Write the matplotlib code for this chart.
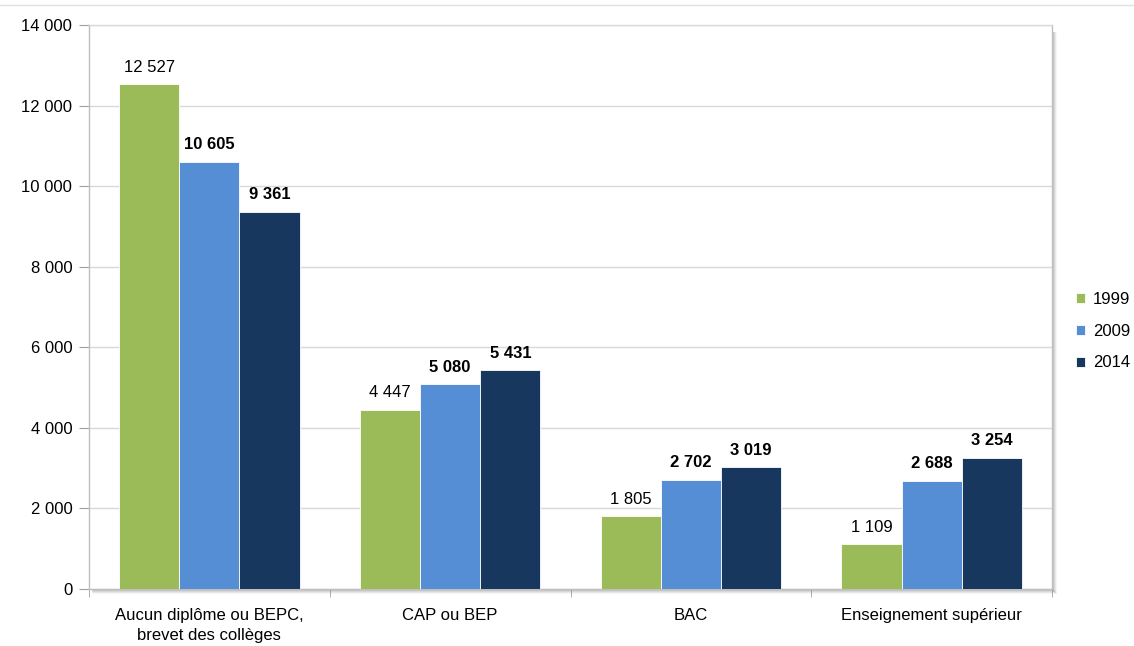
import matplotlib
matplotlib.use('Agg')
import matplotlib.pyplot as plt
import numpy as np
from matplotlib.lines import Line2D

categories = ['Aucun diplôme ou BEPC,\nbrevet des collèges', 'CAP ou BEP', 'BAC',
              'Enseignement supérieur']
years = ['1999', '2009', '2014']
v1999 = [12527, 4447, 1805, 1109]
v2009 = [10605, 5080, 2702, 2688]
v2014 = [9361, 5431, 3019, 3254]
colours = ['#9BBB59', '#558ED5', '#17375E']

plt.rcParams['font.family'] = ['Liberation Sans', 'DejaVu Sans']


def fmt(v):
    return f'{v:,}'.replace(',', ' ')


fig = plt.figure(figsize=(11.34, 6.46), dpi=100)
ax = fig.add_axes([0.0785, 0.0882, 0.8492, 0.8731])

x = np.arange(len(categories))
w = 0.25
series = [v1999, v2009, v2014]
for i, (vals, year, col) in enumerate(zip(series, years, colours)):
    bars = ax.bar(x + (i - 1) * w, vals, w, color=col, edgecolor='white', linewidth=0.6,
                  label=year, zorder=3)
    for b, v in zip(bars, vals):
        ax.annotate(fmt(v), (b.get_x() + b.get_width() / 2, v), xytext=(0, 7),
                    textcoords='offset points', ha='center', va='bottom', fontsize=12,
                    fontweight='normal' if i == 0 else 'bold', color='black')

ax.set_xlim(-0.5, 3.5)
ax.set_ylim(0, 14000)
ax.set_yticks(np.arange(0, 14001, 2000))
ax.set_yticklabels([fmt(v) for v in range(0, 14001, 2000)], fontsize=12)
ax.set_xticks(x)
ax.set_xticklabels(categories, fontsize=12, linespacing=1.35)
ax.set_xticks(np.arange(-0.5, 3.6, 1), minor=True)
ax.tick_params(axis='x', which='major', length=0, pad=14)
ax.tick_params(axis='x', which='minor', length=6, color='#A0A0A0', direction='out')
ax.tick_params(axis='y', length=7, color='#A0A0A0', pad=5)
ax.grid(axis='y', color='#D9D9D9', linewidth=1, zorder=0)
for s in ['left', 'bottom', 'right', 'top']:
    ax.spines[s].set_color('#BFBFBF')
    ax.spines[s].set_linewidth(1)
ax.spines['top'].set_color('#D9D9D9')

# shadow on right and bottom edges of plot area
for k, a in enumerate([0.35, 0.25, 0.15, 0.08]):
    off = (k + 1) * 1.0
    ax.add_line(Line2D([1 + off / 963, 1 + off / 963], [-off / 564, 1 - 8 / 564], transform=ax.transAxes,
                       color='gray', alpha=a, linewidth=1.2, clip_on=False))
    ax.add_line(Line2D([4 / 963, 1 + off / 963], [-off / 564, -off / 564], transform=ax.transAxes,
                       color='gray', alpha=a, linewidth=1.2, clip_on=False))

fig.add_artist(Line2D([0, 1], [0.993, 0.993], color='#E0E0E0', linewidth=1))

ax.legend(loc='center left', bbox_to_anchor=(1.025, 0.457), frameon=False, fontsize=12,
          handlelength=0.55, handleheight=0.55, handletextpad=0.45, labelspacing=1.0,
          borderpad=0, borderaxespad=0)

fig.savefig('out.png', dpi=100)
